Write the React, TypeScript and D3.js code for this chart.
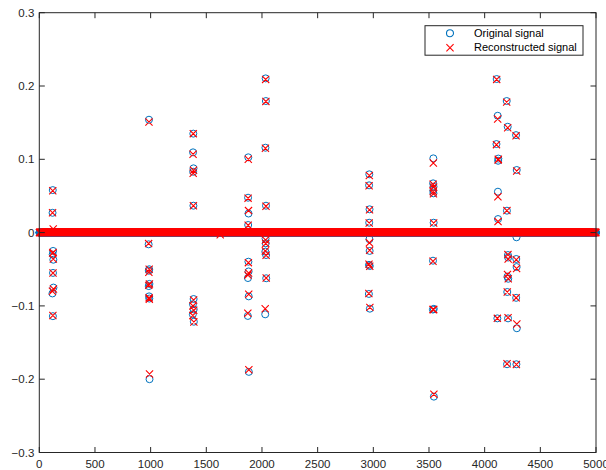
import React from "react";
import * as d3 from "d3";

// sparse test signal, length 5000: only the nonzero entries are listed
const signalLength = 5000;

const spikeIndex = [
  121, 119, 125, 124, 120, 126, 123, 127, 118, 122,
  985, 982, 987, 984, 989, 983, 986, 988, 990,
  1383, 1381, 1385, 1382, 1384, 1386, 1380, 1387, 1379, 1388, 1625,
  1877, 1875, 1879, 1876, 1878, 1880, 1874, 1881, 1873, 1882,
  2033, 2035, 2031, 2036, 2032, 2034, 2030, 2037, 2038, 2029,
  2964, 2962, 2966, 2963, 2965, 2967, 2961, 2968, 2960, 2969,
  3539, 3537, 3541, 3538, 3540, 3542, 3536, 3543, 3535, 3544,
  4108, 4117, 4106, 4123, 4121, 4119, 4120, 4114,
  4198, 4207, 4200, 4209, 4211, 4205, 4212, 4203, 4210, 4201,
  4282, 4288, 4286, 4284, 4287, 4283, 4289, 4285,
];

const originalValues = [
  0.058, 0.027, 0, -0.025, -0.03, -0.037, -0.055, -0.075, -0.083, -0.114,
  0.154, -0.016, -0.05, -0.052, -0.07, -0.073, -0.087, -0.09, -0.2,
  0.135, 0.1095, 0.0877, 0.083, 0.0367, -0.0906, -0.0977, -0.1047, -0.1115, -0.1216, 0,
  0.1027, 0.0476, 0.026, 0.0104, -0.0397, -0.053, -0.062, -0.087, -0.1137, -0.19,
  0.2104, 0.1795, 0.1158, 0.0367, -0.008, -0.0146, -0.026, -0.0306, -0.0623, -0.1115,
  0.0795, 0.0645, 0.0318, 0.0135, -0.009, -0.025, -0.044, -0.0456, -0.0837, -0.1038,
  0.1013, 0.0672, 0.0626, 0.0571, 0.0536, 0.0135, -0.0383, -0.104, -0.105, -0.2238,
  0.2095, 0.1594, 0.1208, 0.101, 0.098, 0.0558, 0.0185, -0.117,
  0.1795, 0.1444, 0.0299, -0.0306, -0.034, -0.06, -0.063, -0.081, -0.117, -0.1796,
  0.133, 0.0854, -0.0064, -0.036, -0.047, -0.089, -0.1305, -0.1796,
];

const reconstructedValues = [
  0.057, 0.027, 0.005, -0.027, -0.028, -0.036, -0.055, -0.077, -0.08, -0.113,
  0.151, -0.015, -0.05, -0.054, -0.07, -0.072, -0.089, -0.091, -0.193,
  0.135, 0.107, 0.085, 0.081, 0.0367, -0.092, -0.1, -0.106, -0.113, -0.122, -0.003,
  0.1, 0.047, 0.03, 0.01, -0.041, -0.055, -0.058, -0.084, -0.11, -0.187,
  0.209, 0.179, 0.115, 0.036, -0.01, -0.015, -0.025, -0.031, -0.062, -0.104,
  0.078, 0.064, 0.031, 0.013, -0.014, -0.024, -0.043, -0.046, -0.083, -0.102,
  0.095, 0.066, 0.062, 0.056, 0.053, 0.013, -0.039, -0.105, -0.105, -0.2206,
  0.209, 0.155, 0.12, 0.1, 0.099, 0.049, 0.015, -0.117,
  0.178, 0.143, 0.03, -0.03, -0.036, -0.057, -0.063, -0.081, -0.116, -0.179,
  0.132, 0.084, 0, -0.037, -0.049, -0.089, -0.1246, -0.18,
];

const xTicks = [0, 500, 1000, 1500, 2000, 2500, 3000, 3500, 4000, 4500, 5000];
const yTicks = [-0.3, -0.2, -0.1, 0, 0.1, 0.2, 0.3];
const legendLabels = ["Original signal", "Reconstructed signal"];

const blue = "#0072BD";
const red = "#FF0000";
const axisColor = "#262626";
const font = "'Liberation Sans', Arial, Helvetica, sans-serif";

function buildSeries(values: number[]) {
  const full = new Array(signalLength).fill(0);
  spikeIndex.forEach((idx, i) => {
    full[idx - 1] = values[i];
  });
  return full.map((v, i) => ({ x: i + 1, y: v }));
}

const App = () => {
  const width = 606;
  const height = 470;
  const margin = { top: 12.7, right: 10, bottom: 17.5, left: 39.3 };

  const x = d3.scaleLinear().domain([0, 5000]).range([margin.left, width - margin.right]);
  const y = d3.scaleLinear().domain([-0.3, 0.3]).range([height - margin.bottom, margin.top]);

  const original = buildSeries(originalValues);
  const reconstructed = buildSeries(reconstructedValues);

  const r = 3.5;
  const c = 3.6;
  const circlePath = (px: number, py: number) =>
    `M${px + r},${py}A${r},${r} 0 1 0 ${px - r},${py}A${r},${r} 0 1 0 ${px + r},${py}`;
  const crossPath = (px: number, py: number) =>
    `M${px - c},${py - c}L${px + c},${py + c}M${px - c},${py + c}L${px + c},${py - c}`;

  const circles = original.map((d) => circlePath(x(d.x), y(d.y))).join("");
  const crosses = reconstructed.map((d) => crossPath(x(d.x), y(d.y))).join("");

  const [x0, x1] = x.range();
  const [y0, y1] = y.range(); // y0 bottom, y1 top
  const tick = 5.5;

  const lx = 425;
  const ly = 25.7;

  return (
    <svg
      width={width}
      height={height}
      style={{ position: "absolute", left: 0, top: 0, background: "#fff" }}
    >
      <rect x={0} y={0} width={width} height={height} fill="#fff" />

      <path d={circles} fill="none" stroke={blue} strokeWidth={1} />
      <path d={crosses} fill="none" stroke={red} strokeWidth={1.1} />

      {/* box + ticks */}
      <g stroke={axisColor} strokeWidth={1} fill="none">
        <rect x={x0} y={y1} width={x1 - x0} height={y0 - y1} />
        {xTicks.map((t) => (
          <g key={"xt" + t}>
            <line x1={x(t)} x2={x(t)} y1={y0} y2={y0 - tick} />
            <line x1={x(t)} x2={x(t)} y1={y1} y2={y1 + tick} />
          </g>
        ))}
        {yTicks.map((t) => (
          <g key={"yt" + t}>
            <line x1={x0} x2={x0 + tick} y1={y(t)} y2={y(t)} />
            <line x1={x1} x2={x1 - tick} y1={y(t)} y2={y(t)} />
          </g>
        ))}
      </g>

      <g fill={axisColor} fontFamily={font} fontSize={11.5}>
        {xTicks.map((t) => (
          <text key={"xl" + t} x={x(t)} y={y0 + 15} textAnchor="middle">
            {t}
          </text>
        ))}
        {yTicks.map((t) => (
          <text key={"yl" + t} x={x0 - 5} y={y(t) + 4} textAnchor="end">
            {t === 0 ? "0" : d3.format(".1f")(t)}
          </text>
        ))}
      </g>

      {/* legend */}
      <g>
        <rect x={lx} y={ly} width={158} height={29.5} fill="#fff" stroke={axisColor} strokeWidth={1} />
        <path d={circlePath(lx + 25, ly + 7.5)} fill="none" stroke={blue} strokeWidth={1.1} />
        <path d={crossPath(lx + 25, ly + 22)} fill="none" stroke={red} strokeWidth={1.1} />
        <text x={lx + 49} y={ly + 11.5} fontFamily={font} fontSize={11} fill="#000">
          {legendLabels[0]}
        </text>
        <text x={lx + 49} y={ly + 25.5} fontFamily={font} fontSize={11} fill="#000">
          {legendLabels[1]}
        </text>
      </g>
    </svg>
  );
};

export default App;
